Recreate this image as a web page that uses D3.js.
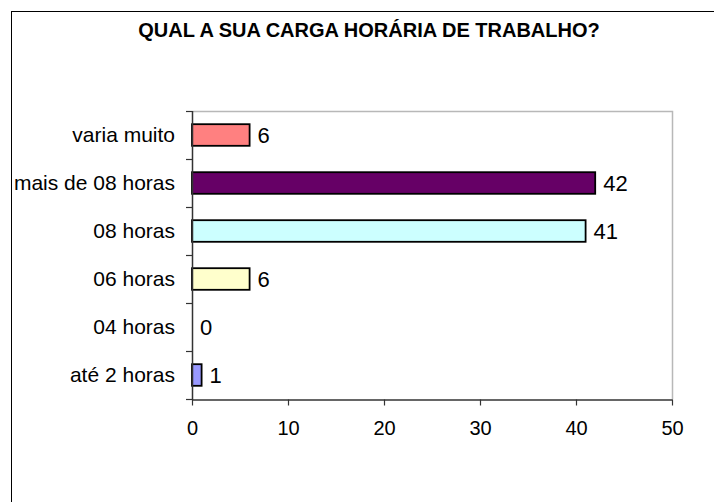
<!DOCTYPE html>
<html lang="pt">
<head>
    <meta charset="UTF-8">
    <title>Carga horária de trabalho</title>
    <style>
        body {
            margin: 0;
            background-color: #ffffff;
        }
        svg {
            display: block;
            font-family: "Liberation Sans", Arial, sans-serif;
        }
    </style>
    <script src="https://d3js.org/d3.v7.min.js"></script>
</head>
<body>
    <svg width="714" height="502"></svg>
    <script>
        const title = "QUAL A SUA CARGA HORÁRIA DE TRABALHO?";
        const categories = ["até 2 horas", "04 horas", "06 horas", "08 horas", "mais de 08 horas", "varia muito"];
        const values = [1, 0, 6, 41, 42, 6];
        const colors = ["#9999ff", "#993366", "#ffffcc", "#ccffff", "#660066", "#ff8080"];
        const xTicks = [0, 10, 20, 30, 40, 50];

        const svg = d3.select("svg");

        // outer frame (right and bottom edges fall outside the picture)
        svg.append("rect")
            .attr("x", 11.5)
            .attr("y", 11.5)
            .attr("width", 740)
            .attr("height", 540)
            .attr("fill", "none")
            .attr("stroke", "#000")
            .attr("stroke-width", 1);

        svg.append("text")
            .attr("x", 369)
            .attr("y", 37)
            .attr("text-anchor", "middle")
            .attr("font-size", 20)
            .attr("font-weight", "bold")
            .text(title);

        const plot = { left: 192, right: 672, top: 111, bottom: 399 };

        const x = d3.scaleLinear()
            .domain([0, 50])
            .range([plot.left, plot.right]);

        // top category first
        const y = d3.scaleBand()
            .domain(categories.slice().reverse())
            .range([plot.top, plot.bottom])
            .paddingInner(0.55)
            .paddingOuter(0.275);

        // plot area border (top + right)
        svg.append("path")
            .attr("d", `M${plot.left},${plot.top + 0.5}H${plot.right + 0.5}V${plot.bottom}`)
            .attr("fill", "none")
            .attr("stroke", "#b8b8b8")
            .attr("stroke-width", 1.5);

        const data = categories.map((c, i) => ({ cat: c, val: values[i], color: colors[i] }));

        svg.append("g")
            .selectAll("rect")
            .data(data.filter(d => d.val > 0))
            .join("rect")
            .attr("x", x(0))
            .attr("y", d => y(d.cat))
            .attr("width", d => x(d.val) - x(0))
            .attr("height", y.bandwidth())
            .attr("fill", d => d.color)
            .attr("stroke", "#000")
            .attr("stroke-width", 1.8);

        // value labels
        svg.append("g")
            .selectAll("text")
            .data(data)
            .join("text")
            .attr("x", d => x(d.val) + 8)
            .attr("y", d => y(d.cat) + y.bandwidth() / 2 + 8)
            .attr("font-size", 22)
            .text(d => d.val);

        // x axis
        const xAxis = svg.append("g")
            .attr("transform", `translate(0,${plot.bottom + 0.5})`)
            .call(d3.axisBottom(x).tickValues(xTicks).tickSize(6).tickSizeOuter(0));
        xAxis.select(".domain").attr("stroke", "#333").attr("stroke-width", 1.5);
        xAxis.selectAll(".tick line").attr("stroke", "#333").attr("stroke-width", 1.2);
        xAxis.selectAll(".tick text")
            .attr("font-size", 20)
            .attr("font-family", "Liberation Sans, Arial, sans-serif")
            .attr("fill", "#000")
            .attr("y", 21)
            .attr("dy", "0.71em");

        // y axis: line, ticks at band boundaries, labels at band centres
        const yAxis = svg.append("g");
        yAxis.append("line")
            .attr("x1", plot.left + 0.5)
            .attr("x2", plot.left + 0.5)
            .attr("y1", plot.top)
            .attr("y2", plot.bottom + 1)
            .attr("stroke", "#333")
            .attr("stroke-width", 1.5);

        const step = y.step();
        const bounds = d3.range(categories.length + 1).map(i => plot.top + i * step);
        yAxis.selectAll(".ytick")
            .data(bounds)
            .join("line")
            .attr("class", "ytick")
            .attr("x1", plot.left - 6)
            .attr("x2", plot.left)
            .attr("y1", d => d + 0.5)
            .attr("y2", d => d + 0.5)
            .attr("stroke", "#333")
            .attr("stroke-width", 1.2);

        yAxis.selectAll(".ylabel")
            .data(categories)
            .join("text")
            .attr("class", "ylabel")
            .attr("x", plot.left - 17)
            .attr("y", d => y(d) + y.bandwidth() / 2 + 7)
            .attr("text-anchor", "end")
            .attr("font-size", 21)
            .text(d => d);
    </script>
</body>
</html>
